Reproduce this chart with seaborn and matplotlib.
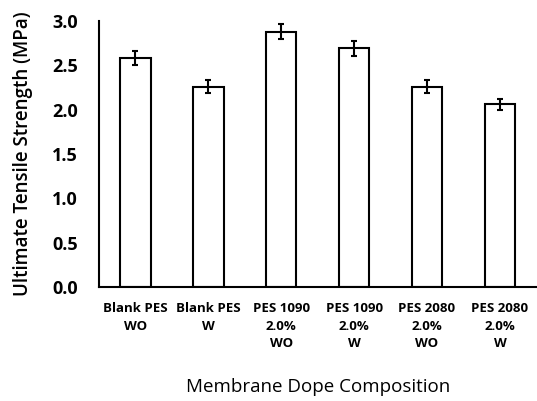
import matplotlib
matplotlib.use("Agg")
import matplotlib.pyplot as plt
import seaborn as sns
import numpy as np
import pandas as pd

categories = ["Blank PES\nWO", "Blank PES\nW", "PES 1090\n2.0%\nWO", "PES 1090\n2.0%\nW",
              "PES 2080\n2.0%\nWO", "PES 2080\n2.0%\nW"]
strength = [2.58, 2.26, 2.88, 2.69, 2.26, 2.06]
errors = [0.08, 0.075, 0.09, 0.085, 0.075, 0.065]

sns.set_theme(style="white")
plt.rcParams['font.family'] = ['Open Sans', 'DejaVu Sans']
plt.rcParams['text.color'] = 'black'
plt.rcParams['axes.labelcolor'] = 'black'
plt.rcParams['xtick.color'] = 'black'
plt.rcParams['ytick.color'] = 'black'

fig = plt.figure(figsize=(5.37, 4.01), dpi=100)
ax = fig.add_axes([0.184, 0.284, 0.815, 0.664])

df = pd.DataFrame({"cat": categories, "val": strength})
sns.barplot(data=df, x="cat", y="val", ax=ax, color="white", edgecolor="black",
            linewidth=1.5, width=0.42, errorbar=None, saturation=1)
ax.errorbar(np.arange(len(categories)), strength, yerr=errors, fmt="none",
            ecolor="black", elinewidth=1.5, capsize=2, capthick=1.5)

ax.set_xlim(-0.5, len(categories) - 0.5)
ax.set_ylim(0, 3.0)
ax.set_yticks(np.arange(0, 3.01, 0.5))
ax.set_yticklabels([f"{v:.1f}" for v in np.arange(0, 3.01, 0.5)], fontsize=13, fontweight="bold")
ax.set_xticks(range(len(categories)))
ax.set_xticklabels(categories, fontsize=9.5, fontweight="bold", linespacing=1.45)
ax.set_xticks(np.arange(-0.5, len(categories)), minor=True)
ax.tick_params(axis="x", which="major", length=0, pad=11)
ax.tick_params(axis="x", which="minor", length=6, width=1.5, direction="out")
ax.tick_params(axis="y", which="major", length=6, width=1.5, direction="out", pad=9)

for s in ["top", "right"]:
    ax.spines[s].set_visible(False)
for s in ["left", "bottom"]:
    ax.spines[s].set_color("black")
    ax.spines[s].set_linewidth(1.5)

ax.set_ylabel("Ultimate Tensile Strength (MPa)", fontsize=13.5, fontweight="semibold", labelpad=14)
ax.set_xlabel("Membrane Dope Composition", fontsize=13.5, labelpad=20)

fig.savefig("out.png", dpi=100)
